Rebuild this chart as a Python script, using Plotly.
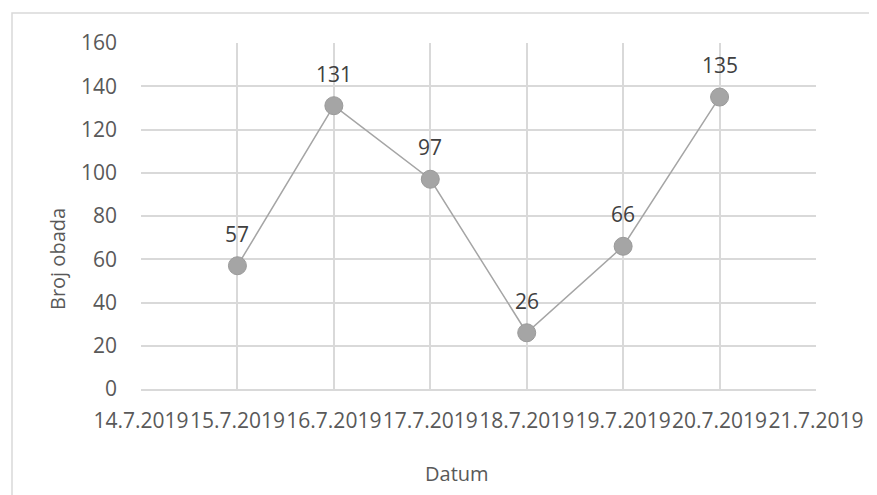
import plotly.graph_objects as go

dates = ["14.7.2019", "15.7.2019", "16.7.2019", "17.7.2019",
         "18.7.2019", "19.7.2019", "20.7.2019", "21.7.2019"]
point_dates = ["15.7.2019", "16.7.2019", "17.7.2019",
               "18.7.2019", "19.7.2019", "20.7.2019"]
counts = [57, 131, 97, 26, 66, 135]
y_ticks = [0, 20, 40, 60, 80, 100, 120, 140, 160]

xpos = [dates.index(d) for d in point_dates]

FONT = "Open Sans"
TICK_COLOR = "#595959"
GRID = "#d9d9d9"

# plot area in screen pixels (page has ~7px body offset)
PX0, PX1, PY0, PY1 = 140, 815, 42, 388
PW, PH = PX1 - PX0, PY1 - PY0


def px(x):
    return (x - PX0) / PW


def py(y):
    return 1 - (y - PY0) / PH


fig = go.Figure()
fig.add_trace(go.Scatter(
    x=xpos, y=counts, mode="lines+markers",
    line=dict(color="#a5a5a5", width=1.5),
    marker=dict(size=18, color="#a5a5a5", line=dict(color="#9a9a9a", width=1)),
    hoverinfo="skip", showlegend=False,
))

annotations = []
for xv, yv in zip(xpos, counts):
    annotations.append(dict(
        x=xv, y=yv, xref="x", yref="y", text=str(yv), showarrow=False,
        yshift=32, xanchor="center", yanchor="middle",
        font=dict(family=FONT, size=21, color="#404040"),
    ))
annotations.append(dict(
    x=px(56), y=py(258), xref="paper", yref="paper",
    xanchor="center", yanchor="middle",
    text="Broj obada", textangle=-90, showarrow=False,
    font=dict(family=FONT, size=20, color=TICK_COLOR),
))
annotations.append(dict(
    x=px(456), y=py(473), xref="paper", yref="paper",
    xanchor="center", yanchor="middle",
    text="Datum", showarrow=False,
    font=dict(family=FONT, size=20, color=TICK_COLOR),
))

fig.update_layout(
    width=877, height=495,
    margin=dict(l=133, r=69, t=35, b=114),
    paper_bgcolor="white", plot_bgcolor="white",
    annotations=annotations,
    shapes=[dict(
        type="rect", xref="paper", yref="paper",
        x0=px(11), x1=1.3, y0=-0.5, y1=py(12),
        line=dict(color=GRID, width=1.5), fillcolor="rgba(0,0,0,0)", layer="below",
    )],
    xaxis=dict(
        range=[0, len(dates) - 1], tickmode="array",
        tickvals=list(range(len(dates))), ticktext=dates,
        showgrid=True, gridcolor=GRID, gridwidth=1.5,
        showline=True, linecolor=GRID, linewidth=1.5,
        zeroline=False, ticks="", ticklabelstandoff=12,
        tickangle=0, automargin=False,
        tickfont=dict(family=FONT, size=21, color=TICK_COLOR),
    ),
    yaxis=dict(
        range=[0, 160], tickmode="array", tickvals=y_ticks,
        showgrid=True, gridcolor=GRID, gridwidth=1.5,
        showline=False, zeroline=False, ticks="", ticklabelstandoff=23,
        automargin=False,
        tickfont=dict(family=FONT, size=21, color=TICK_COLOR),
    ),
)

fig.write_html("out.html")
